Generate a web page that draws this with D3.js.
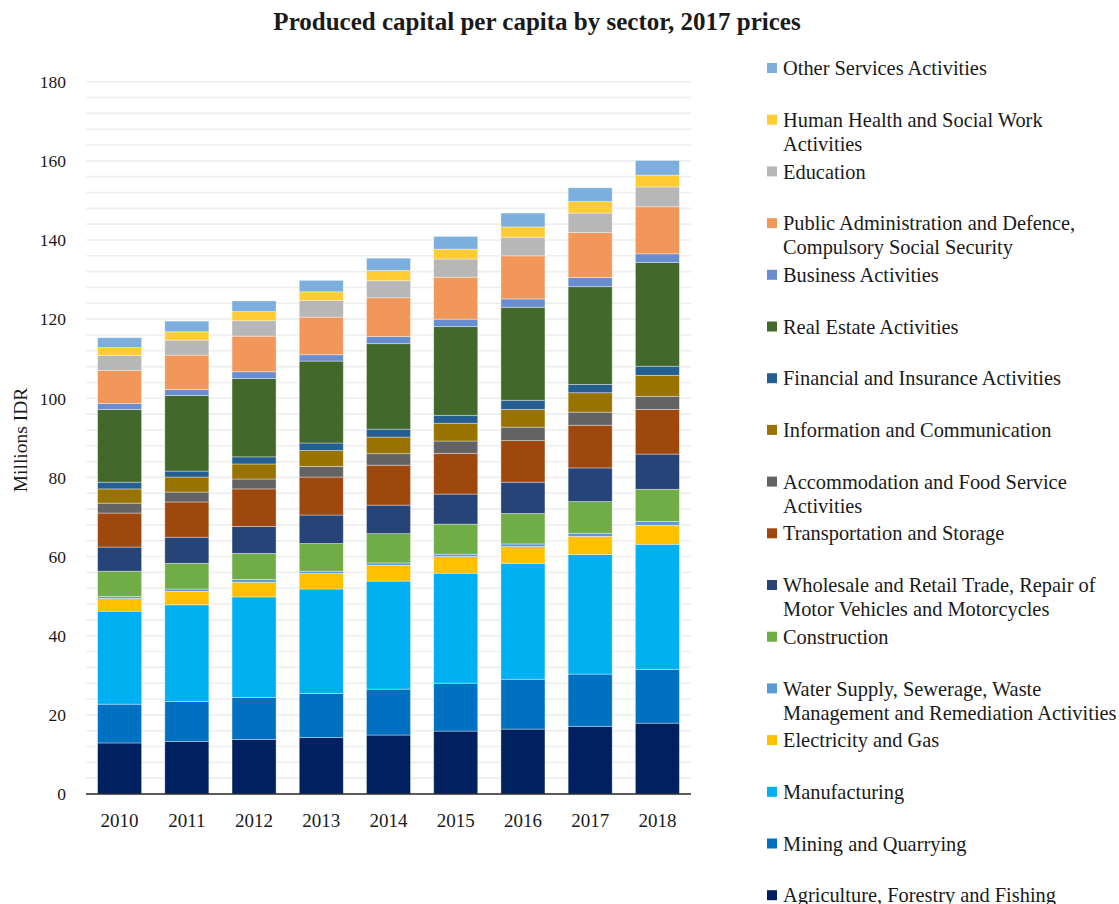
<!DOCTYPE html>
<html>
<head>
<meta charset="utf-8">
<script src="https://cdn.jsdelivr.net/npm/d3@7/dist/d3.min.js"></script>
<style>
  html, body { margin: 0; padding: 0; background: #fff; }
  svg { display: block; }
  text { font-family: "Liberation Serif", "DejaVu Serif", serif; fill: #1a1a1a; }
</style>
</head>
<body>
<svg id="chart" width="1119" height="904"></svg>
<script>
// Years on the category axis
const years = ["2010", "2011", "2012", "2013", "2014", "2015", "2016", "2017", "2018"];

// Sectors, bottom of the stack first
const sectors = [
  "Agriculture, Forestry and Fishing",
  "Mining and Quarrying",
  "Manufacturing",
  "Electricity and Gas",
  "Water Supply, Sewerage, Waste Management and Remediation Activities",
  "Construction",
  "Wholesale and Retail Trade, Repair of Motor Vehicles and Motorcycles",
  "Transportation and Storage",
  "Accommodation and Food Service Activities",
  "Information and Communication",
  "Financial and Insurance Activities",
  "Real Estate Activities",
  "Business Activities",
  "Public Administration and Defence, Compulsory Social Security",
  "Education",
  "Human Health and Social Work Activities",
  "Other Services Activities"
];

// Produced capital per capita (millions IDR), one array per sector, 2010..2018
const agriculture    = [12.9, 13.3, 13.8, 14.3, 14.9, 15.9, 16.4, 17.1, 17.9];
const mining         = [9.8, 10.1, 10.6, 11.1, 11.6, 12.1, 12.6, 13.2, 13.6];
const manufacturing  = [23.5, 24.4, 25.4, 26.4, 27.3, 27.8, 29.3, 30.2, 31.6];
const electricity    = [3.2, 3.4, 3.7, 3.9, 4.0, 4.2, 4.2, 4.6, 4.8];
const water          = [0.5, 0.6, 0.7, 0.6, 0.6, 0.6, 0.7, 0.8, 1.0];
const construction   = [6.4, 6.5, 6.6, 7.0, 7.4, 7.6, 7.7, 8.0, 8.1];
const wholesale      = [6.1, 6.6, 6.8, 7.2, 7.2, 7.6, 7.9, 8.5, 8.9];
const transportation = [8.6, 8.9, 9.5, 9.6, 10.1, 10.3, 10.5, 10.8, 11.3];
const accommodation  = [2.5, 2.5, 2.5, 2.7, 2.9, 3.1, 3.4, 3.3, 3.3];
const information    = [3.6, 3.8, 3.8, 4.0, 4.2, 4.5, 4.5, 4.9, 5.3];
const financial      = [1.7, 1.5, 1.8, 1.9, 2.0, 2.0, 2.3, 2.1, 2.3];
const realEstate     = [18.4, 19.1, 19.8, 20.7, 21.6, 22.4, 23.5, 24.7, 26.2];
const business       = [1.5, 1.5, 1.7, 1.6, 1.8, 1.9, 2.1, 2.3, 2.2];
const publicAdmin    = [8.3, 8.7, 9.0, 9.5, 9.8, 10.6, 10.9, 11.4, 11.9];
const education      = [3.8, 3.8, 3.9, 4.2, 4.3, 4.6, 4.7, 4.9, 5.0];
const health         = [2.0, 2.1, 2.3, 2.2, 2.6, 2.5, 2.6, 2.9, 3.0];
const otherServices  = [2.5, 2.7, 2.7, 2.9, 3.1, 3.2, 3.5, 3.5, 3.7];

const seriesValues = [
  agriculture, mining, manufacturing, electricity, water, construction,
  wholesale, transportation, accommodation, information, financial,
  realEstate, business, publicAdmin, education, health, otherServices
];

const colors = [
  "#002060", "#0070C0", "#00B0F0", "#FFC000", "#5B9BD5", "#70AD47",
  "#264478", "#9E480E", "#636363", "#997300", "#255E91",
  "#43682B", "#698ED0", "#F1975A", "#B7B7B7", "#FFCD33", "#7CAFDD"
];

// Value-axis ticks
const yTicks = [0, 20, 40, 60, 80, 100, 120, 140, 160, 180];
const gridStep = 4;

// Build rows for d3.stack
const rows = years.map((yr, i) => {
  const r = { year: yr };
  sectors.forEach((s, k) => { r[s] = seriesValues[k][i]; });
  return r;
});

const svg = d3.select("#chart");

const plot = { left: 86, right: 691, top: 81.7, bottom: 794 };

const x = d3.scaleBand()
  .domain(years)
  .range([plot.left, plot.right])
  .paddingInner(0.345)
  .paddingOuter(0.1725);

const y = d3.scaleLinear()
  .domain([0, 180])
  .range([plot.bottom, plot.top]);

// Light horizontal gridlines
const gridVals = d3.range(gridStep, 180 + 0.001, gridStep);
svg.append("g")
  .selectAll("line")
  .data(gridVals)
  .join("line")
  .attr("x1", plot.left)
  .attr("x2", plot.right)
  .attr("y1", d => y(d))
  .attr("y2", d => y(d))
  .attr("stroke", "#eeeeee")
  .attr("stroke-width", 1.6);

// Stacked bars
const stack = d3.stack().keys(sectors);
const stacked = stack(rows);

const colorOf = d3.scaleOrdinal().domain(sectors).range(colors);

svg.append("g")
  .selectAll("g")
  .data(stacked)
  .join("g")
  .attr("fill", d => colorOf(d.key))
  .selectAll("rect")
  .data(d => d)
  .join("rect")
  .attr("x", d => x(d.data.year))
  .attr("width", x.bandwidth())
  .attr("y", d => y(d[1]))
  .attr("height", d => y(d[0]) - y(d[1]))
  .attr("stroke", "rgba(255,255,255,0.45)")
  .attr("stroke-width", 0.8);

// Category axis line
svg.append("line")
  .attr("x1", plot.left)
  .attr("x2", plot.right)
  .attr("y1", plot.bottom)
  .attr("y2", plot.bottom)
  .attr("stroke", "#262626")
  .attr("stroke-width", 1.5);

// Category labels
const xAxis = d3.axisBottom(x).tickSize(0).tickPadding(0);
const gx = svg.append("g")
  .attr("transform", `translate(0,${plot.bottom})`)
  .call(xAxis);
gx.select(".domain").remove();
gx.selectAll("text")
  .attr("y", 33)
  .attr("dy", null)
  .style("font-family", '"Liberation Serif", serif')
  .style("font-size", "19px")
  .style("fill", "#1a1a1a");

// Value labels
const yAxis = d3.axisLeft(y).tickValues(yTicks).tickSize(0).tickPadding(0);
const gy = svg.append("g")
  .attr("transform", "translate(66,0)")
  .call(yAxis);
gy.select(".domain").remove();
gy.selectAll("text")
  .attr("x", 0)
  .attr("dy", "0.33em")
  .style("font-family", '"Liberation Serif", serif')
  .style("font-size", "17.5px")
  .style("fill", "#1a1a1a");

// Axis title
svg.append("text")
  .attr("transform", `translate(27,440) rotate(-90)`)
  .attr("text-anchor", "middle")
  .style("font-size", "19.5px")
  .text("Millions IDR");

// Chart title
svg.append("text")
  .attr("x", 537)
  .attr("y", 30)
  .attr("text-anchor", "middle")
  .style("font-size", "25px")
  .style("font-weight", "bold")
  .text("Produced capital per capita by sector, 2017 prices");

// Legend, top entry is the last sector in the stack
const legend = svg.append("g");
const legendTop = 68;
const legendStep = 51.7;
const lineGap = 24;
const maxTextWidth = 337;

sectors.slice().reverse().forEach((name, i) => {
  const cy = legendTop + i * legendStep;
  const g = legend.append("g");
  g.append("rect")
    .attr("x", 767)
    .attr("y", cy - 5)
    .attr("width", 10)
    .attr("height", 10)
    .attr("fill", colorOf(name));
  const t = g.append("text")
    .attr("x", 783)
    .attr("y", cy)
    .attr("dy", "0.35em")
    .style("font-size", "20.4px");
  // simple word wrapping
  const words = name.split(" ");
  let line = [];
  let tspan = t.append("tspan").attr("x", 783);
  words.forEach(w => {
    line.push(w);
    tspan.text(line.join(" "));
    if (tspan.node().getComputedTextLength() > maxTextWidth && line.length > 1) {
      line.pop();
      tspan.text(line.join(" "));
      line = [w];
      tspan = t.append("tspan").attr("x", 783).attr("dy", lineGap).text(w);
    }
  });
});
</script>
</body>
</html>
